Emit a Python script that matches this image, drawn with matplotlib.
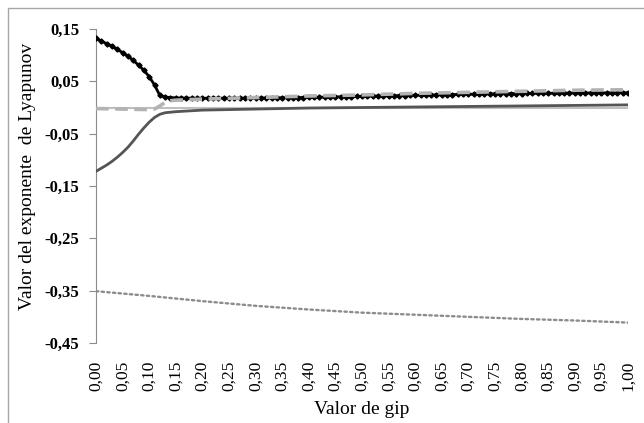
import numpy as np
import matplotlib
matplotlib.use("Agg")
import matplotlib.pyplot as plt
from matplotlib.patches import Rectangle

# gip values (0,00 .. 1,00 in steps of 0,01)
gip = np.round(np.arange(0, 1.0001, 0.01), 2)

# largest exponent (black, markers)
lyap_1 = [0.132, 0.127, 0.122, 0.117, 0.111, 0.105, 0.098, 0.090, 0.081, 0.071,
          0.059, 0.043, 0.023,
          0.020, 0.019, 0.0185, 0.018, 0.018, 0.0178, 0.0177,
          0.0177, 0.0177, 0.0177, 0.0178, 0.0178, 0.0178, 0.0179, 0.0179, 0.018, 0.018,
          0.0181, 0.0182, 0.0183, 0.0184, 0.0185, 0.0186, 0.0187, 0.0188, 0.019, 0.0191,
          0.0193, 0.0195, 0.0197, 0.0199, 0.0201, 0.0203, 0.0205, 0.0207, 0.0209, 0.0211,
          0.0213, 0.0215, 0.0217, 0.0219, 0.0221, 0.0223, 0.0225, 0.0227, 0.0229, 0.0231,
          0.0233, 0.0235, 0.0237, 0.0239, 0.0241, 0.0243, 0.0245, 0.0247, 0.0249, 0.0251,
          0.0253, 0.0255, 0.0257, 0.0259, 0.026, 0.0262, 0.0263, 0.0264, 0.0265, 0.0266,
          0.0267, 0.0268, 0.0269, 0.027, 0.0271, 0.0272, 0.0273, 0.0274, 0.0275, 0.0276,
          0.0277, 0.0277, 0.0278, 0.0278, 0.0279, 0.0279, 0.028, 0.028, 0.0281, 0.0281, 0.0282]

# second exponent (light grey dashed)
gip_2 = [0.00, 0.05, 0.10, 0.11, 0.12, 0.13, 0.14, 0.15, 0.20, 0.30, 0.40, 0.50,
         0.60, 0.70, 0.80, 0.90, 1.00]
lyap_2 = [-0.002, -0.003, -0.004, -0.003, 0.003, 0.010, 0.013, 0.014, 0.016, 0.019,
          0.022, 0.024, 0.027, 0.029, 0.031, 0.033, 0.034]

# third exponent (dark grey solid)
gip_3 = [0.00, 0.01, 0.02, 0.03, 0.04, 0.05, 0.06, 0.07, 0.08, 0.09, 0.10, 0.11,
         0.12, 0.13, 0.14, 0.15, 0.20, 0.30, 0.40, 0.50, 0.60, 0.70, 0.80, 0.90, 1.00]
lyap_3 = [-0.122, -0.116, -0.110, -0.103, -0.095, -0.086, -0.076, -0.064, -0.051,
          -0.039, -0.028, -0.019, -0.013, -0.010, -0.009, -0.008, -0.005, -0.003,
          -0.001, 0.000, 0.001, 0.002, 0.003, 0.004, 0.005]

# fourth exponent (grey dotted)
gip_4 = [0.0, 0.1, 0.2, 0.3, 0.4, 0.5, 0.6, 0.7, 0.8, 0.9, 1.0]
lyap_4 = [-0.351, -0.360, -0.370, -0.379, -0.386, -0.392, -0.396, -0.400, -0.404,
          -0.407, -0.411]

x_ticks = [round(0.05 * i, 2) for i in range(21)]
y_ticks = [0.15, 0.05, -0.05, -0.15, -0.25, -0.35, -0.45]

serif = ["Liberation Serif", "DejaVu Serif"]

fig = plt.figure(figsize=(6.44, 4.23), dpi=100)
fig.patches.append(Rectangle((8 / 644, -0.1), 1.2, 1 - 8 / 423 + 0.1,
                             transform=fig.transFigure, fill=False,
                             edgecolor="#a6a6a6", linewidth=1.0))
ax = fig.add_axes([96 / 644, 1 - 343 / 423, (628 - 96) / 644, (343 - 29) / 423])

ax.axhline(0, color="#bfbfbf", linewidth=1.5, zorder=1)
ax.plot(gip_4, lyap_4, color="#8c8c8c", linewidth=1.7, linestyle=(0, (1, 1.4)),
        dash_capstyle="round", zorder=2)
ax.plot(gip_3, lyap_3, color="#555555", linewidth=2.0, zorder=3)
ax.plot(gip, lyap_1, color="black", linewidth=2.0, marker="D", markersize=2.6,
        zorder=4)
ax.plot(gip_2, lyap_2, color="#b3b3b3", linewidth=2.6, linestyle=(0, (3.5, 1.8)),
        zorder=5)

ax.set_xlim(0, 1)
ax.set_ylim(-0.45, 0.15)
for s in ["top", "right", "bottom"]:
    ax.spines[s].set_visible(False)
ax.spines["left"].set_color("#8c8c8c")

ax.set_yticks(y_ticks)
ax.set_yticklabels([f"{v:.2f}".replace(".", ",") for v in y_ticks],
                   fontfamily=serif, fontweight="bold", fontsize=12)
ax.tick_params(axis="y", direction="out", length=5, color="#8c8c8c", pad=7)

ax.set_xticks(x_ticks)
ax.set_xticklabels([f"{v:.2f}".replace(".", ",") for v in x_ticks],
                   rotation=90, fontfamily=serif, fontsize=12.5)
ax.tick_params(axis="x", length=0, pad=13)

ax.set_xlabel("Valor de gip", fontfamily=serif, fontsize=14, labelpad=7)
ax.set_ylabel("Valor del exponente  de Lyapunov", fontfamily=serif, fontsize=14)
ax.yaxis.set_label_coords(-0.112, 0.53)

fig.savefig("out.png", dpi=100)
